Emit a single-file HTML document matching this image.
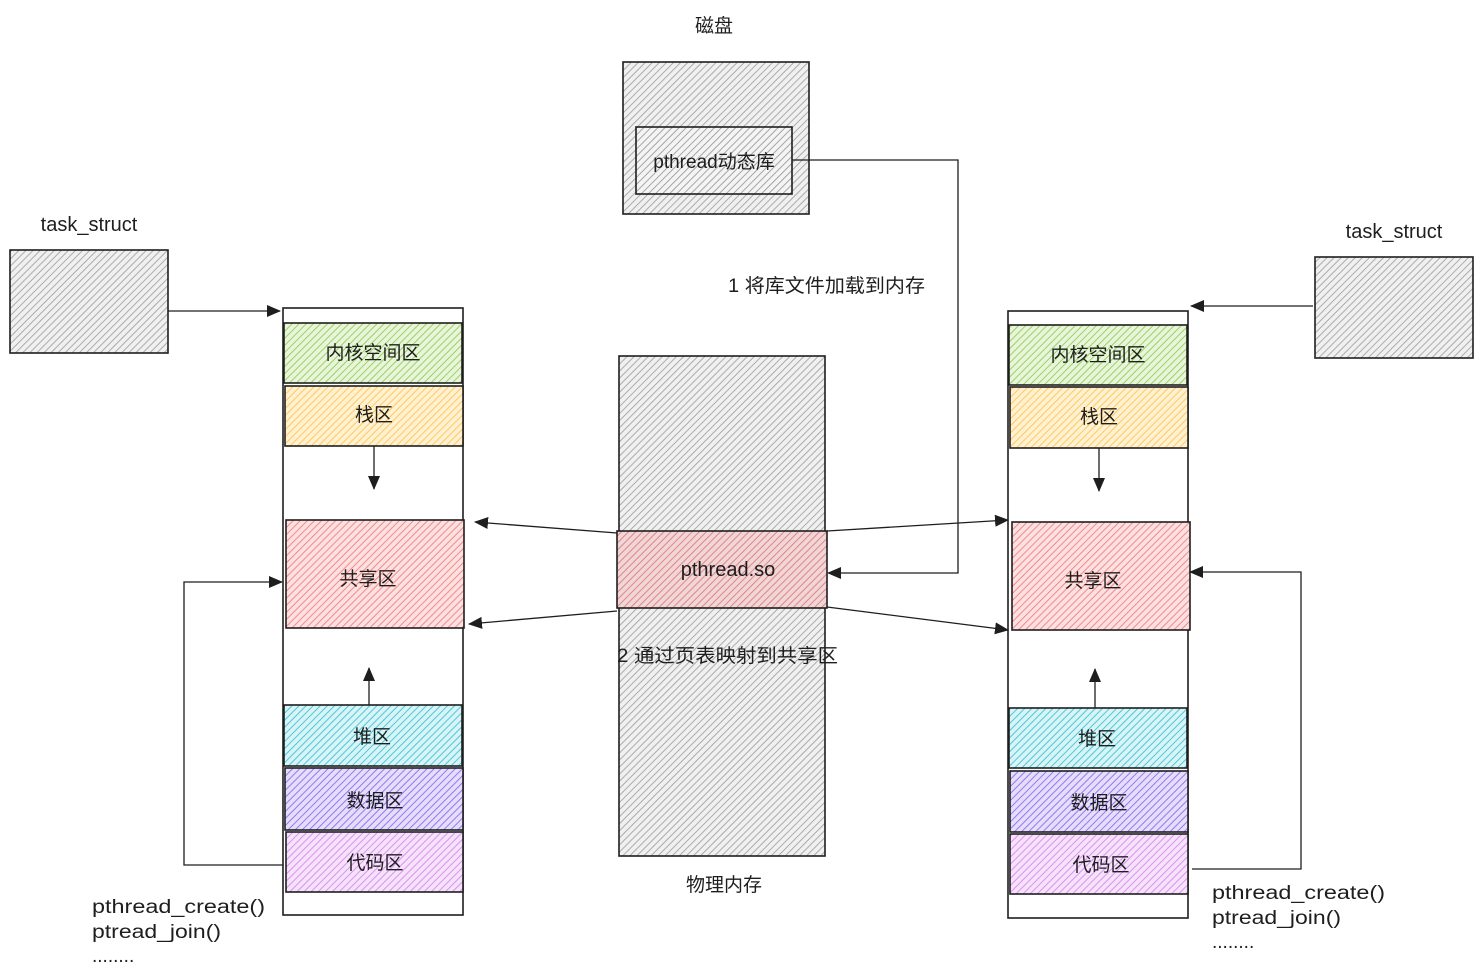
<!DOCTYPE html>
<html><head><meta charset="utf-8"><style>
html,body{margin:0;padding:0;background:#fff;}
svg{display:block;}
text{font-family:"Liberation Sans","Noto Sans CJK SC",sans-serif;fill:#1e1e1e;}
</style></head><body>
<svg width="1483" height="979" viewBox="0 0 1483 979" xmlns="http://www.w3.org/2000/svg">
<defs>
<pattern id="hg" width="5" height="5" patternUnits="userSpaceOnUse" patternTransform="rotate(45)"><rect width="5" height="5" fill="#f0f0f0"/><line x1="0" y1="0" x2="0" y2="5" stroke="#a4a4a4" stroke-width="1.8"/></pattern>
<pattern id="hgr" width="5" height="5" patternUnits="userSpaceOnUse" patternTransform="rotate(45)"><rect width="5" height="5" fill="#f4f4f4"/><line x1="0" y1="0" x2="0" y2="5" stroke="#9c9c9c" stroke-width="1.8"/></pattern>
<pattern id="hgreen" width="5" height="5" patternUnits="userSpaceOnUse" patternTransform="rotate(45)"><rect width="5" height="5" fill="#e8f5da"/><line x1="0" y1="0" x2="0" y2="5" stroke="#99d264" stroke-width="2"/></pattern>
<pattern id="hy" width="5" height="5" patternUnits="userSpaceOnUse" patternTransform="rotate(45)"><rect width="5" height="5" fill="#fff1d2"/><line x1="0" y1="0" x2="0" y2="5" stroke="#ffc95e" stroke-width="2"/></pattern>
<pattern id="hr" width="5" height="5" patternUnits="userSpaceOnUse" patternTransform="rotate(45)"><rect width="5" height="5" fill="#fde0e0"/><line x1="0" y1="0" x2="0" y2="5" stroke="#f28a8a" stroke-width="2"/></pattern>
<pattern id="hrg" width="5" height="5" patternUnits="userSpaceOnUse" patternTransform="rotate(45)"><rect width="5" height="5" fill="#f0d6d6"/><line x1="0" y1="0" x2="0" y2="5" stroke="#e08585" stroke-width="2"/></pattern>
<pattern id="hc" width="5" height="5" patternUnits="userSpaceOnUse" patternTransform="rotate(45)"><rect width="5" height="5" fill="#d9f4f7"/><line x1="0" y1="0" x2="0" y2="5" stroke="#4cc8d8" stroke-width="2"/></pattern>
<pattern id="hp" width="5" height="5" patternUnits="userSpaceOnUse" patternTransform="rotate(45)"><rect width="5" height="5" fill="#e6ddfb"/><line x1="0" y1="0" x2="0" y2="5" stroke="#9478f2" stroke-width="2"/></pattern>
<pattern id="hm" width="5" height="5" patternUnits="userSpaceOnUse" patternTransform="rotate(45)"><rect width="5" height="5" fill="#f6e2fa"/><line x1="0" y1="0" x2="0" y2="5" stroke="#d993ee" stroke-width="2"/></pattern>
<marker id="ar" markerWidth="14" markerHeight="12" refX="13" refY="6" orient="auto" markerUnits="userSpaceOnUse"><path d="M0,0 L14,6 L0,12 Z" fill="#1e1e1e"/></marker>
</defs>
<g stroke="#1e1e1e" stroke-width="1.6">
<rect x="623" y="62" width="186" height="152" fill="url(#hg)"/>
<rect x="636" y="127" width="156" height="67" fill="url(#hgr)"/>
<rect x="10" y="250" width="158" height="103" fill="url(#hg)"/>
<rect x="1315" y="257" width="158" height="101" fill="url(#hg)"/>
<rect x="283" y="308" width="180" height="607" fill="#fff"/>
<rect x="284" y="323" width="178" height="60" fill="url(#hgreen)"/>
<rect x="285" y="386" width="178" height="60" fill="url(#hy)"/>
<rect x="286" y="520" width="178" height="108" fill="url(#hr)"/>
<rect x="284" y="705" width="178" height="61" fill="url(#hc)"/>
<rect x="285" y="768" width="178" height="62" fill="url(#hp)"/>
<rect x="286" y="832" width="177" height="60" fill="url(#hm)"/>
<rect x="1008" y="311" width="180" height="607" fill="#fff"/>
<rect x="1009" y="325" width="178" height="60" fill="url(#hgreen)"/>
<rect x="1010" y="387" width="178" height="61" fill="url(#hy)"/>
<rect x="1012" y="522" width="178" height="108" fill="url(#hr)"/>
<rect x="1009" y="708" width="178" height="60" fill="url(#hc)"/>
<rect x="1010" y="771" width="178" height="61" fill="url(#hp)"/>
<rect x="1010" y="834" width="178" height="60" fill="url(#hm)"/>
<rect x="619" y="356" width="206" height="500" fill="url(#hg)"/>
<rect x="617" y="531" width="210" height="77" fill="url(#hrg)"/>
</g>
<g stroke="#1e1e1e" stroke-width="1.3" fill="none">
<path d="M168,311 L280,311" marker-end="url(#ar)"/>
<path d="M1313,306 L1191,306" marker-end="url(#ar)"/>
<path d="M374,446 L374,489" marker-end="url(#ar)"/>
<path d="M1099,448 L1099,491" marker-end="url(#ar)"/>
<path d="M369,705 L369,668" marker-end="url(#ar)"/>
<path d="M1095,708 L1095,669" marker-end="url(#ar)"/>
<path d="M617,533 L475,522" marker-end="url(#ar)"/>
<path d="M617,611 L469,624" marker-end="url(#ar)"/>
<path d="M827,531 L1008,520" marker-end="url(#ar)"/>
<path d="M827,607 L1008,630" marker-end="url(#ar)"/>
<path d="M792,160 L958,160 L958,573 L828,573" marker-end="url(#ar)"/>
<path d="M283,865 L184,865 L184,582 L282,582" marker-end="url(#ar)"/>
<path d="M1192,869 L1301,869 L1301,572 L1190,572" marker-end="url(#ar)"/>
</g>
<g font-size="19" text-anchor="middle">
<text x="714" y="32">磁盘</text>
<text x="714" y="168" font-size="19">pthread动态库</text>
<text x="89" y="231" font-size="20">task_struct</text>
<text x="1394" y="238" font-size="20">task_struct</text>
<text x="373" y="359">内核空间区</text>
<text x="374" y="421">栈区</text>
<text x="368" y="585">共享区</text>
<text x="372" y="743">堆区</text>
<text x="375" y="807">数据区</text>
<text x="375" y="869">代码区</text>
<text x="1098" y="361">内核空间区</text>
<text x="1099" y="423">栈区</text>
<text x="1093" y="587">共享区</text>
<text x="1097" y="745">堆区</text>
<text x="1099" y="809">数据区</text>
<text x="1101" y="871">代码区</text>
<text x="728" y="576" font-size="20">pthread.so</text>
<text x="724" y="891">物理内存</text>
</g>
<g font-size="19">
<text x="728" y="292" textLength="197" lengthAdjust="spacingAndGlyphs">1  将库文件加载到内存</text>
<text x="617" y="662" textLength="221" lengthAdjust="spacingAndGlyphs">2  通过页表映射到共享区</text>
<text x="92" y="913" textLength="173" lengthAdjust="spacingAndGlyphs">pthread_create()</text>
<text x="92" y="938" textLength="129" lengthAdjust="spacingAndGlyphs">ptread_join()</text>
<text x="92" y="962">........</text>
<text x="1212" y="899" textLength="173" lengthAdjust="spacingAndGlyphs">pthread_create()</text>
<text x="1212" y="924" textLength="129" lengthAdjust="spacingAndGlyphs">ptread_join()</text>
<text x="1212" y="948">........</text>
</g>
</svg>
</body></html>
